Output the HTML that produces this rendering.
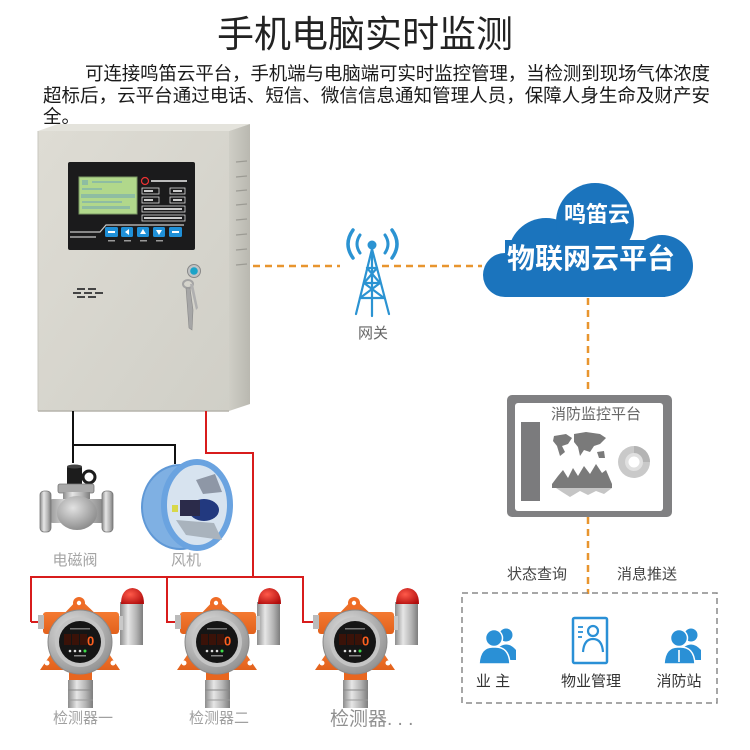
<!DOCTYPE html>
<html><head><meta charset="utf-8">
<style>
html,body{margin:0;padding:0;background:#fff;}
svg{display:block;}
text{font-family:"Liberation Sans","Noto Sans CJK SC",sans-serif;}
</style></head>
<body>
<svg width="750" height="750" viewBox="0 0 750 750" xmlns="http://www.w3.org/2000/svg">
<defs>
  <linearGradient id="face" x1="0" y1="0" x2="1" y2="1">
    <stop offset="0" stop-color="#dedcd4"/><stop offset="1" stop-color="#d0cfc7"/>
  </linearGradient>
  <linearGradient id="side" x1="0" y1="0" x2="1" y2="0">
    <stop offset="0" stop-color="#cfcec6"/><stop offset="1" stop-color="#b9b8b0"/>
  </linearGradient>
  <linearGradient id="silver" x1="0" y1="0" x2="1" y2="0">
    <stop offset="0" stop-color="#8c8c8c"/><stop offset="0.35" stop-color="#e6e6e6"/><stop offset="0.7" stop-color="#b5b5b5"/><stop offset="1" stop-color="#7d7d7d"/>
  </linearGradient>
  <radialGradient id="faceR" cx="0.4" cy="0.35" r="0.7">
    <stop offset="0" stop-color="#e8e8e8"/><stop offset="1" stop-color="#8f8f8f"/>
  </radialGradient>
  <linearGradient id="orange" x1="0" y1="0" x2="0" y2="1">
    <stop offset="0" stop-color="#f47a32"/><stop offset="1" stop-color="#e2611c"/>
  </linearGradient>
  <radialGradient id="redDome" cx="0.4" cy="0.4" r="0.7">
    <stop offset="0" stop-color="#ff5a4a"/><stop offset="1" stop-color="#b00c0c"/>
  </radialGradient>
  <radialGradient id="valveG" cx="0.4" cy="0.35" r="0.8">
    <stop offset="0" stop-color="#e2e2e2"/><stop offset="1" stop-color="#7c7c7c"/>
  </radialGradient>
</defs>

<!-- Title -->
<text x="365" y="47" font-size="37" fill="#222" text-anchor="middle">手机电脑实时监测</text>
<text x="85" y="80" font-size="18.5" fill="#1a1a1a" textLength="625" lengthAdjust="spacing">可连接鸣笛云平台，手机端与电脑端可实时监控管理，当检测到现场气体浓度</text>
<text x="43" y="102" font-size="18.5" fill="#1a1a1a" textLength="667" lengthAdjust="spacing">超标后，云平台通过电话、短信、微信信息通知管理人员，保障人身生命及财产安</text>
<text x="43" y="123" font-size="18.5" fill="#1a1a1a">全。</text>

<!-- Cabinet -->
<polygon points="38,131 229,131 250,124 58,124" fill="#e4e3dc"/>
<polygon points="229,131 250,124 250,404 229,411" fill="url(#side)"/>
<rect x="38" y="131" width="191" height="280" fill="url(#face)"/>
<line x1="38" y1="131" x2="38" y2="411" stroke="#c8c7bf" stroke-width="1"/>
<line x1="38" y1="411" x2="229" y2="411" stroke="#b5b4ac" stroke-width="1.5"/>
<!-- side vents -->
<g stroke="#9c9b94" stroke-width="1.2">
  <line x1="236" y1="162" x2="247" y2="161"/>
  <line x1="236" y1="177" x2="247" y2="176"/>
  <line x1="236" y1="191" x2="247" y2="190"/>
  <line x1="236" y1="205" x2="247" y2="204"/>
  <line x1="236" y1="220" x2="247" y2="219"/>
  <line x1="236" y1="235" x2="247" y2="234"/>
  <line x1="236" y1="250" x2="247" y2="249"/>
  <line x1="236" y1="265" x2="247" y2="264"/>
</g>
<!-- display panel -->
<rect x="68" y="162" width="127" height="88" rx="2" fill="#1b1b1c"/>
<rect x="79" y="177" width="58" height="37" fill="#b1d88b" stroke="#7b9a64" stroke-width="1"/>
<g fill="#86b7a8" opacity="0.8">
  <rect x="82" y="180" width="6" height="5"/><rect x="92" y="181" width="30" height="2"/>
  <rect x="82" y="188" width="20" height="2"/>
  <rect x="81" y="194" width="54" height="4"/>
  <rect x="82" y="201" width="40" height="2"/>
  <rect x="82" y="206" width="48" height="3"/>
</g>
<circle cx="145" cy="181" r="3.5" fill="none" stroke="#e33" stroke-width="1.2"/>
<rect x="151" y="180" width="36" height="2" fill="#bbb"/>
<g fill="none" stroke="#ddd" stroke-width="0.8">
  <rect x="142" y="188" width="17" height="6"/><rect x="170" y="188" width="15" height="6"/>
  <rect x="142" y="197" width="17" height="6"/><rect x="170" y="197" width="15" height="6"/>
  <rect x="142" y="206" width="43" height="6"/>
  <rect x="142" y="215" width="43" height="6"/>
</g>
<g fill="#ccc">
  <rect x="144" y="190" width="9" height="2"/><rect x="173" y="190" width="9" height="2"/>
  <rect x="144" y="199" width="9" height="2"/><rect x="173" y="199" width="9" height="2"/>
  <rect x="144" y="208" width="38" height="2"/><rect x="144" y="217" width="38" height="2"/>
</g>
<polyline points="70,232 100,232 106,225 184,225" fill="none" stroke="#c9c9c9" stroke-width="1.2"/>
<line x1="70" y1="237" x2="96" y2="237" stroke="#c9c9c9" stroke-width="1.2"/>
<g fill="#1f90d8">
  <rect x="105" y="227" width="13" height="10" rx="1.5"/>
  <rect x="121" y="227" width="12" height="10" rx="1.5"/>
  <rect x="137" y="227" width="12" height="10" rx="1.5"/>
  <rect x="153" y="227" width="12" height="10" rx="1.5"/>
  <rect x="169" y="227" width="13" height="10" rx="1.5"/>
</g>
<g fill="#fff">
  <polygon points="125,232 129,229 129,235"/>
  <polygon points="143,229 140,234 146,234"/>
  <polygon points="156,230 162,230 159,235"/>
  <rect x="108" y="231" width="7" height="2"/>
  <rect x="172" y="231" width="7" height="2"/>
</g>
<g fill="#999">
  <rect x="108" y="240" width="7" height="1.5"/><rect x="124" y="240" width="7" height="1.5"/>
  <rect x="140" y="240" width="7" height="1.5"/><rect x="156" y="240" width="7" height="1.5"/>
</g>
<!-- speaker -->
<g fill="#444">
  <rect x="77" y="288" width="8" height="2"/><rect x="88" y="288" width="8" height="2"/>
  <rect x="73" y="292" width="8" height="2"/><rect x="84" y="292" width="8" height="2"/><rect x="95" y="292" width="8" height="2"/>
  <rect x="77" y="296" width="8" height="2"/><rect x="88" y="296" width="8" height="2"/>
</g>
<!-- lock & key -->
<circle cx="194" cy="271" r="6.5" fill="#bfc2c4" stroke="#888" stroke-width="1"/>
<circle cx="194" cy="271" r="3.8" fill="#1aa3c8"/>
<ellipse cx="188" cy="284" rx="5" ry="4" fill="none" stroke="#a4a4a4" stroke-width="2"/>
<path d="M186 288 L189 328 L192 330 L193 310 L190 288 Z" fill="#a6a6a6" stroke="#888" stroke-width="0.6"/>
<path d="M190 284 L196 310 L198 308 L193 284 Z" fill="#b0b0b0"/>

<!-- black wires -->
<path d="M73 411 V463 M73 445 H175 V464" fill="none" stroke="#111" stroke-width="2"/>
<!-- red wires -->
<path d="M206 411 V453 H253 V577 M31 622 V577 H303 V622 H316 M31 622 H41 M167 577 V622 H179" fill="none" stroke="#d81c1c" stroke-width="2"/>

<!-- Valve -->
<rect x="67" y="466" width="15" height="20" rx="2" fill="#1c1c1c"/>
<ellipse cx="74.5" cy="466.5" rx="7.5" ry="2" fill="#444"/>
<circle cx="89" cy="477" r="6" fill="none" stroke="#1c1c1c" stroke-width="3"/>
<rect x="58" y="484" width="36" height="9" rx="2" fill="#a9a9a9" stroke="#777" stroke-width="0.8"/>
<rect x="63" y="492" width="27" height="10" fill="url(#silver)"/>
<rect x="47" y="499" width="60" height="24" rx="6" fill="url(#silver)"/>
<ellipse cx="77" cy="513" rx="20" ry="17" fill="url(#valveG)"/>
<rect x="40" y="491" width="11" height="41" rx="4" fill="url(#silver)" stroke="#777" stroke-width="0.8"/>
<rect x="102" y="491" width="11" height="41" rx="4" fill="url(#silver)" stroke="#777" stroke-width="0.8"/>
<text x="75" y="565" font-size="15" fill="#a5a5a5" text-anchor="middle">电磁阀</text>

<!-- Fan -->
<ellipse cx="180" cy="507" rx="38" ry="42" fill="#7fb0e3" stroke="#5f98d6" stroke-width="2"/>
<ellipse cx="197" cy="505" rx="33" ry="43" fill="#d7e3ef" stroke="#6aa3e0" stroke-width="6"/>
<polygon points="176,520 214,523 222,540 186,535" fill="#a9b3bd"/>
<polygon points="196,480 215,474 222,492 203,494" fill="#8e97a6"/>
<ellipse cx="204" cy="510" rx="15" ry="11" fill="#22397f"/>
<rect x="180" y="500" width="20" height="16" fill="#2b2b4a"/>
<rect x="172" y="505" width="6" height="7" fill="#d8d84a"/>
<text x="186" y="565" font-size="15" fill="#a5a5a5" text-anchor="middle">风机</text>

<!-- Detectors -->
<g id="det">
  <!-- beacon -->
  <rect x="120" y="602" width="23" height="43" fill="url(#silver)"/>
  <path d="M121 604 Q121 589 132.5 588 Q144 589 144 604 Z" fill="url(#redDome)"/>
  <rect x="117" y="616" width="6" height="14" fill="#c9c9c9"/>
  <!-- housing -->
  <polygon points="60,618 79,598 100,618" fill="url(#orange)"/>
  <circle cx="79" cy="603" r="6" fill="#ef6c26"/>
  <circle cx="79" cy="603" r="2.2" fill="#fff"/>
  <rect x="43" y="612" width="76" height="22" rx="3" fill="url(#orange)"/>
  <rect x="38" y="615" width="6" height="14" fill="#bbb"/>
  <polygon points="40,670 55,648 105,648 120,670" fill="url(#orange)"/>
  <circle cx="47" cy="663" r="2.5" fill="#fff"/>
  <circle cx="113" cy="663" r="2.5" fill="#fff"/>
  <rect x="69" y="668" width="23" height="13" fill="#e8661f"/>
  <!-- sensor -->
  <rect x="68" y="680" width="25" height="28" fill="url(#silver)"/>
  <line x1="68" y1="690" x2="93" y2="690" stroke="#888" stroke-width="1"/>
  <line x1="68" y1="700" x2="93" y2="700" stroke="#999" stroke-width="1"/>
  <!-- face -->
  <circle cx="80" cy="642" r="32" fill="url(#faceR)" stroke="#8a8a8a" stroke-width="1"/>
  <circle cx="80" cy="642" r="25" fill="#c4c4c4"/>
  <circle cx="80" cy="642" r="21" fill="#151515"/>
  <rect x="64" y="634" width="7" height="11" fill="#3a1208"/>
  <rect x="72" y="634" width="7" height="11" fill="#3a1208"/>
  <rect x="80" y="634" width="7" height="11" fill="#3a1208"/>
  <text x="87" y="645.5" font-size="13" font-weight="bold" fill="#ff5f1f">0</text>
  <circle cx="70" cy="651" r="1.3" fill="#ddd"/>
  <circle cx="75" cy="651" r="1.3" fill="#ddd"/>
  <circle cx="80" cy="651" r="1.3" fill="#ddd"/>
  <circle cx="85" cy="651" r="1.5" fill="#3ee04a"/>
  <rect x="74" y="655" width="12" height="1.5" fill="#888"/>
  <rect x="70" y="628" width="20" height="1.5" fill="#777"/>
</g>
<use href="#det" transform="translate(137,0)"/>
<use href="#det" transform="translate(275,0)"/>
<text x="83" y="723" font-size="15" fill="#a0a0a0" text-anchor="middle">检测器一</text>
<text x="219" y="723" font-size="15" fill="#a0a0a0" text-anchor="middle">检测器二</text>
<text x="330" y="725" font-size="19" fill="#909090">检测器. . .</text>

<!-- Orange dashed links -->
<g stroke="#e8952e" stroke-width="2.5" stroke-dasharray="7 5" fill="none">
  <line x1="253" y1="266" x2="340" y2="266"/>
  <line x1="382" y1="266" x2="482" y2="266"/>
  <line x1="588" y1="298" x2="588" y2="394"/>
  <line x1="588" y1="517" x2="588" y2="594"/>
</g>

<!-- Tower -->
<g stroke="#2b93d2" fill="none" stroke-linecap="round">
  <path d="M353 230 Q343 244 353 258" stroke-width="3.5"/>
  <path d="M360 235 Q354 244 360 253" stroke-width="3"/>
  <path d="M392 230 Q402 244 392 258" stroke-width="3.5"/>
  <path d="M385 235 Q391 244 385 253" stroke-width="3"/>
  <g stroke-width="2.2">
    <path d="M372 249 L356 314 M372 249 L389 314"/>
    <line x1="372" y1="249" x2="372" y2="316"/>
    <path d="M367 268 L377 268 M364 283 L380 283 M360 298 L384 298"/>
    <path d="M367 268 L380 283 M377 268 L364 283 M364 283 L384 298 M380 283 L360 298"/>
  </g>
</g>
<circle cx="372" cy="245" r="4.5" fill="#2b93d2"/>
<text x="373" y="338" font-size="15" fill="#666" text-anchor="middle">网关</text>

<!-- Cloud -->
<g fill="#1b74bd">
  <circle cx="505" cy="275" r="22"/>
  <circle cx="546" cy="256" r="38"/>
  <circle cx="595" cy="222" r="39"/>
  <circle cx="662" cy="266" r="31"/>
  <rect x="505" y="240" width="160" height="57"/>
</g>
<text x="597" y="222" font-size="22" font-weight="bold" fill="#fff" text-anchor="middle">鸣笛云</text>
<text x="591" y="268" font-size="28" font-weight="bold" fill="#fff" text-anchor="middle">物联网云平台</text>

<!-- Monitor -->
<rect x="507" y="395" width="165" height="122" rx="5" fill="#808082"/>
<rect x="515" y="403" width="148" height="108" rx="3" fill="#fff"/>
<text x="596" y="419" font-size="15" fill="#666" text-anchor="middle">消防监控平台</text>
<rect x="521" y="422" width="19" height="79" fill="#7b7b7d"/>
<g fill="#7a7a7a">
  <path d="M554 436 L566 434 L572 438 L568 444 L562 446 L565 452 L560 456 L557 446 L553 441 Z"/>
  <path d="M574 434 L586 432 L600 434 L606 438 L600 444 L594 446 L590 452 L584 450 L580 456 L578 447 L574 442 Z"/>
  <path d="M597 452 L604 451 L605 458 L599 458 Z"/>
  <path d="M552 484 L558 476 L563 470 L568 478 L573 468 L578 476 L584 466 L590 474 L596 464 L602 473 L606 470 L612 484 L612 488 L552 488 Z"/>
</g>
<path d="M556 488 L612 488 L604 494 L596 491 L588 495 L580 491 L570 497 L562 492 Z" fill="#c5c5c5"/>
<circle cx="634" cy="462" r="16" fill="#c9c9c9"/>
<path d="M634 446 A16 16 0 0 1 650 462 L640 462 A6 6 0 0 0 634 456 Z" fill="#b4b4b4"/>
<circle cx="634" cy="462" r="9" fill="#e0e0e0"/>
<circle cx="634" cy="462" r="5.5" fill="#fff"/>

<!-- labels -->
<text x="537" y="579" font-size="15" fill="#444" text-anchor="middle">状态查询</text>
<text x="647" y="579" font-size="15" fill="#444" text-anchor="middle">消息推送</text>

<!-- Dashed box -->
<rect x="462" y="593" width="255" height="110" fill="none" stroke="#8a8a8a" stroke-width="1.5" stroke-dasharray="6 4"/>

<!-- People icons -->
<g fill="#2a90d6">
  <circle cx="506" cy="635" r="6.5"/>
  <path d="M498 648 Q507 640 516 650 L516 660 L500 660 Z"/>
  <circle cx="494" cy="638" r="8.5" fill="#2a90d6" stroke="#fff" stroke-width="1.5"/>
  <path d="M479 664 Q480 646 494 647 Q509 646 510 664 Z" stroke="#fff" stroke-width="1.5"/>
</g>
<g fill="#2a90d6">
  <circle cx="691" cy="635" r="6.5"/>
  <path d="M683 648 Q692 640 701 650 L701 660 L685 660 Z"/>
  <circle cx="679" cy="638" r="8.5" stroke="#fff" stroke-width="1.5"/>
  <path d="M664 664 Q665 646 679 647 Q694 646 695 664 Z" stroke="#fff" stroke-width="1.5"/>
</g>
<line x1="679" y1="650" x2="679" y2="662" stroke="#fff" stroke-width="1.6"/>
<rect x="573" y="618" width="34" height="45" rx="1.5" fill="none" stroke="#2a90d6" stroke-width="2.5"/>
<circle cx="593" cy="631" r="5" fill="none" stroke="#2a90d6" stroke-width="2.2"/>
<path d="M583 652 Q584 639 593 639 Q602 639 603 652" fill="none" stroke="#2a90d6" stroke-width="2.2"/>
<g stroke="#2a90d6" stroke-width="1.8">
  <line x1="578" y1="627" x2="583" y2="627"/>
  <line x1="578" y1="632" x2="583" y2="632"/>
  <line x1="578" y1="637" x2="582" y2="637"/>
</g>
<text x="493" y="686" font-size="15" fill="#333" text-anchor="middle">业 主</text>
<text x="591" y="686" font-size="15" fill="#333" text-anchor="middle">物业管理</text>
<text x="679" y="686" font-size="15" fill="#333" text-anchor="middle">消防站</text>
</svg>
</body></html>
